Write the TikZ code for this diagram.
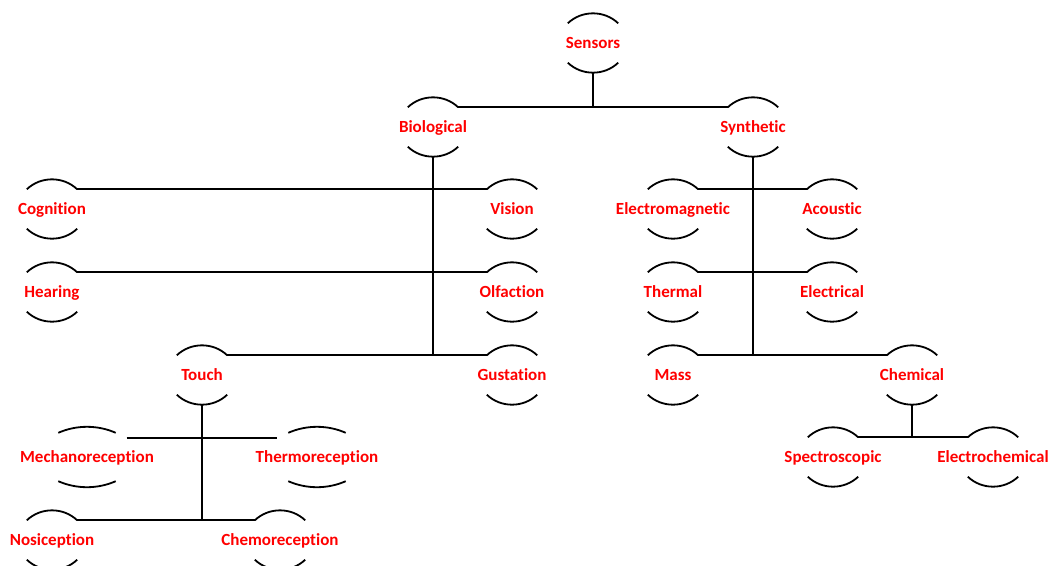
\documentclass[tikz,border=0pt]{standalone}
\usepackage{fontspec}
\setmainfont{Carlito}[Ligatures={NoCommon,NoRare}]
\newcommand{\lbltext}[1]{\makebox[0pt]{\raisebox{-5.5pt}[0pt][0pt]{#1}}}
\begin{document}
\begin{tikzpicture}[x=1pt,y=-1pt]
\tikzset{
  lbl/.style={rectangle, inner sep=0pt, minimum width=50pt, minimum height=39pt,
    text=red, font=\bfseries\fontsize{17}{20}\selectfont},
  widelbl/.style={lbl, minimum width=57pt, minimum height=48pt},
  con/.style={line width=2pt, black},
  arcln/.style={line width=1.8pt, black}
}
\useasboundingbox (0,0) rectangle (1051,565);
\clip (0,0) rectangle (1051,565);
% nodes
\node[lbl] (sens)  at (593,43)  {\lbltext{Sensors}};
\node[lbl] (bio)   at (433,127) {\lbltext{Biological}};
\node[lbl] (syn)   at (753,127) {\lbltext{Synthetic}};
\node[lbl] (cog)   at (52,209)  {\lbltext{Cognition}};
\node[lbl] (vis)   at (512,209) {\lbltext{Vision}};
\node[lbl] (hear)  at (52,292)  {\lbltext{Hearing}};
\node[lbl] (olf)   at (512,292) {\lbltext{Olfaction}};
\node[lbl] (touch) at (202,375) {\lbltext{Touch}};
\node[lbl] (gus)   at (512,375) {\lbltext{Gustation}};
\node[lbl] (em)    at (673,209) {\lbltext{Electromagnetic}};
\node[lbl] (aco)   at (832,209) {\lbltext{Acoustic}};
\node[lbl] (therm) at (673,292) {\lbltext{Thermal}};
\node[lbl] (elec)  at (832,292) {\lbltext{Electrical}};
\node[lbl] (mass)  at (673,375) {\lbltext{Mass}};
\node[lbl] (chem)  at (912,375) {\lbltext{Chemical}};
\node[lbl] (spec)  at (833,457) {\lbltext{Spectroscopic}};
\node[lbl] (echem) at (993,457) {\lbltext{Electrochemical}};
\node[widelbl] (mech)   at (87,457)  {\lbltext{Mechanoreception}};
\node[widelbl] (thermo) at (317,457) {\lbltext{Thermoreception}};
\node[lbl] (nos)   at (52,540)  {\lbltext{Nosiception}};
\node[lbl] (chemo) at (280,540) {\lbltext{Chemoreception}};
% arcs
\foreach \n in {sens,bio,syn,cog,vis,hear,olf,touch,gus,em,aco,therm,elec,mass,chem,spec,echem,nos,chemo}{
  \draw[arcln] (\n.north west) .. controls +(14,-13.3) and +(-14,-13.3) .. (\n.north east);
  \draw[arcln] (\n.south west) .. controls +(14,13.3) and +(-14,13.3) .. (\n.south east);
}
\foreach \n in {mech,thermo}{
  \draw[arcln] (\n.north west) .. controls +(18.2,-8) and +(-18.2,-8) .. (\n.north east);
  \draw[arcln] (\n.south west) .. controls +(18.2,8) and +(-18.2,8) .. (\n.south east);
}
% connectors
\draw[con] ([yshift=-10pt]sens.south) -- (sens |- bio.north east);
\draw[con] (bio.north east) -- (syn.north west);
\draw[con] ([yshift=-10pt]bio.south) -- (bio |- touch.north east);
\draw[con] (cog.north east) -- (vis.north west);
\draw[con] (hear.north east) -- (olf.north west);
\draw[con] (touch.north east) -- (gus.north west);
\draw[con] ([yshift=-10pt]syn.south) -- (syn |- mass.north east);
\draw[con] (em.north east) -- (aco.north west);
\draw[con] (therm.north east) -- (elec.north west);
\draw[con] (mass.north east) -- (chem.north west);
\draw[con] ([yshift=-10pt]chem.south) -- (chem |- spec.north east);
\draw[con] (spec.north east) -- (echem.north west);
\draw[con] ([yshift=-10pt]touch.south) -- (touch |- nos.north east);
\draw[con] ([xshift=11pt,yshift=-5pt]mech.north east) -- ([xshift=-11pt,yshift=-5pt]thermo.north west);
\draw[con] (nos.north east) -- (chemo.north west);
\end{tikzpicture}
\end{document}
